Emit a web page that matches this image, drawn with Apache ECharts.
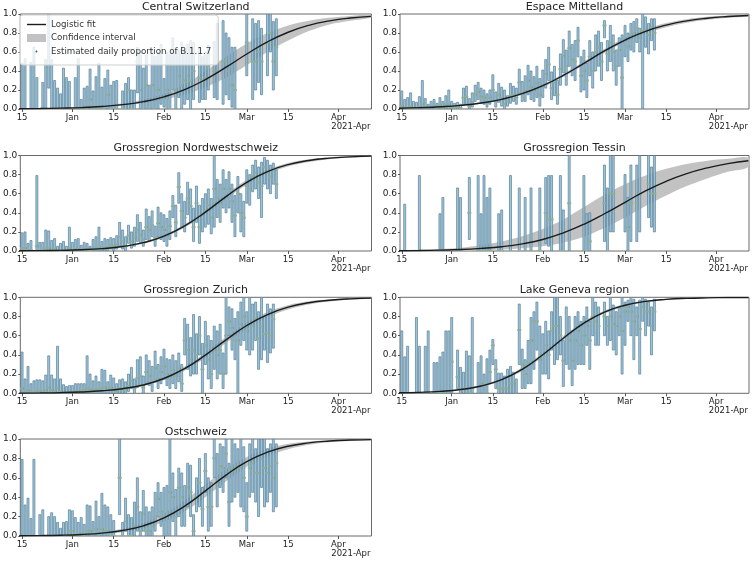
<!DOCTYPE html>
<html><head><meta charset="utf-8">
<script src="https://cdn.jsdelivr.net/npm/echarts@6/dist/echarts.min.js"></script>
<style>html,body{margin:0;padding:0;background:#fff}#c{width:752px;height:561px}</style>
</head><body><div id="c"></div>
<script>
// x values are days since 2020-12-14
const tickDays = [1, 18, 32, 49, 63, 77, 91, 108];
const tickLabels = ['15', 'Jan', '15', 'Feb', '15', 'Mar', '15', 'Apr'];
const offsetLabel = '2021-Apr';
const sampleDays = [0,7,14,21,28,35,42,49,56,63,70,77,84,91,98,105,112,119];
const regionNames = ['Central Switzerland','Espace Mittelland','Grossregion Nordwestschweiz','Grossregion Tessin','Grossregion Zurich','Lake Geneva region','Ostschweiz'];

// ---- Central Switzerland ----
const csHi = [null,.48,.53,null,.49,.65,.33,null,.28,.52, 1,.52,.30,.22,.16,.43,.33,.29,null,.33, .53,.10,.22,.24,.42,.19,.34,.48,.23,.32, .41,.25,.29,.30,null,.19,.27,.33,.20,.20, .65,.60,.43,.57,.25,.63,.55,.59,.68,.32, .60,.58,.75,.60,.62,.70,.62,.68,.72,.70, null,.65,.55,.60,.67,null,.71,.90,null,.93, .80,.75,.65,.65,null,null,null,1,null,.95, .90,.93,.85,null,1,1,.92,.95];
const csLo = [null,0,0,null,0,0,0,null,0,0, .22,0,0,0,0,0,0,0,null,0, 0,0,0,0,0,0,0,0,0,0, 0,0,0,0,null,0,0,0,0,0, .17,0,0,0,0,0,0,0,.05,.02, 0,0,.20,0,.12,0,.05,.10,0,.10, null,.07,.10,.10,.20,null,.12,.10,null,.05, .15,.10,.02,0,null,null,null,.35,null,.10, .20,.28,.15,null,.35,.60,.20,.35];
const csP = [null,0,0,null,0,0,0,null,0,0, .55,0,0,0,0,0,0,0,null,0, 0,0,0,0,.1,0,0,0,0,0, .15,0,0,0,null,0,0,.2,0,0, .5,.2,0,.25,0,.25,0,.2,.5,.12, .2,0,.5,.2,.35,.25,.3,.35,.3,.4, null,.33,.3,.33,.45,null,.4,.5,null,.5, .5,.4,.25,.2,null,null,null,.7,null,.5, .5,.6,.5,null,.7,.8,.5,.65];
const csFit = [.003,.005,.009,.015,.027,.046,.077,.128,.204,.31,.44,.579,.707,.808,.881,.928,.958,.975];
const csCiLo = [.002,.003,.006,.01,.02,.035,.06,.10,.15,.23,.33,.46,.60,.72,.82,.89,.93,.96];
const csCiHi = [.004,.007,.012,.02,.035,.06,.10,.16,.26,.40,.55,.69,.80,.88,.93,.96,.98,.99];

// ---- Espace Mittelland ----
const emHi = [.14,.19,.10,.12,.17,.08,.07,.13,.30,.11, .05,.08,.10,.06,.12,.08,.14,.20,.08,.06, .07,.05,.22,.24,.11,.17,.25,.28,.22,.20, .16,.20,.36,.18,.27,.23,.20,.14,.27,.24, .22,.42,.29,.35,.46,.40,.34,.45,.32,.41, .52,.65,.39,.45,.30,.58,.73,.62,.82,.68, .72,.86,.55,.62,.48,.72,.60,.78,.82,.70, .93,.72,.88,.78,.62,.75,.78,.88,.80,.90, .92,.95,.85,1,.97,.90,.95,.95];
const emLo = [0,0,0,0,0,0,0,0,0,0, 0,0,0,0,0,0,0,0,0,0, 0,0,.04,.05,0,.02,.08,.10,.06,.05, .02,.05,.08,.02,.07,.03,0,.03,.06,.08, .05,.16,.08,.08,.15,.10,.08,.12,.03,.12, .22,.30,.10,.14,.05,.25,.38,.25,.45,.35, .30,.55,.18,.20,.12,.35,.22,.40,.45,.30, .75,.40,.50,.40,.25,.45,0,.55,.50,.62, .60,.70,.60,0,.65,.58,.72,.62];
const emP = [.02,.03,0,.01,.03,0,0,.02,.05,.01, 0,.02,.03,0,.04,.01,.04,.05,.02,.01, .02,.01,.12,.13,.03,.07,.15,.18,.13,.12, .07,.12,.20,.08,.15,.12,.05,.08,.14,.15, .12,.28,.17,.19,.30,.23,.20,.27,.15,.25, .37,.47,.22,.28,.15,.42,.56,.45,.64,.52, .50,.72,.35,.40,.30,.55,.40,.60,.65,.50, .88,.58,.70,.60,.45,.62,.33,.73,.66,.78, .80,.85,.75,.82,.83,.78,.86,.80];
const emFit = [.008,.014,.023,.038,.063,.102,.161,.245,.354,.481,.611,.726,.818,.883,.928,.956,.973,.984];
const emCiLo = [.006,.011,.019,.032,.055,.092,.149,.230,.337,.462,.590,.704,.795,.860,.908,.940,.961,.975];
const emCiHi = [.010,.017,.027,.044,.071,.112,.173,.260,.371,.500,.632,.748,.840,.905,.946,.970,.983,.991];

// ---- Grossregion Nordwestschweiz ----
const nwHi = [.15,.19,.20,.08,.11,null,.79,.09,.09,.22, .21,.11,.13,.05,.08,.10,.05,.25,.09,.12, .13,.06,.09,.08,.05,.12,.15,.25,.10,.13, .12,.14,.13,.16,.30,.22,.15,.27,.20,.25, .38,.30,.22,.44,.36,.42,.26,.46,.40,.38, .34,.42,.58,.48,.82,.60,.52,.72,.65,.45, .68,.48,.55,.60,.65,.55,1,.75,.70,.85, .75,.83,.70,.58,.78,.60,.52,.85,.80,.90, .95,.88,.93,.98,.95,.90,.92,.85];
const nwLo = [0,0,0,0,0,null,0,0,0,0, 0,0,0,0,0,0,0,0,0,0, 0,0,0,0,0,0,0,0,0,0, 0,.02,0,.02,.05,.02,0,.08,.03,.05, .10,.08,.05,.12,.10,.15,.05,.15,.12,.10, .05,.12,.35,.15,.50,.25,.20,.38,.30,.10, .30,.08,.20,.25,.28,.18,.25,.35,.30,.45, .40,.45,.30,.15,.40,.20,.15,.50,.48,.62, .65,.55,.35,.70,.65,.60,.70,.55];
const nwP = [.02,.03,.03,0,.01,null,.05,0,0,.03, .03,.01,.02,0,0,.01,0,.03,.01,.02, .02,0,.01,.01,0,.02,.03,.04,.02,.03, .04,.06,.05,.07,.15,.10,.05,.16,.10,.14, .22,.17,.12,.25,.22,.27,.14,.29,.25,.22, .16,.26,.47,.30,.67,.42,.35,.55,.47,.25, .50,.25,.38,.42,.48,.35,.65,.55,.50,.65, .58,.65,.52,.37,.60,.40,.35,.68,.65,.78, .82,.72,.68,.88,.82,.78,.85,.70];
const nwFit = [.002,.0035,.007,.013,.025,.047,.087,.156,.263,.407,.570,.719,.832,.905,.948,.973,.986,.993];
const nwCiLo = [.001,.002,.005,.010,.020,.040,.077,.142,.245,.385,.545,.695,.810,.885,.932,.962,.978,.988];
const nwCiHi = [.003,.005,.009,.016,.030,.055,.097,.170,.281,.429,.595,.743,.852,.922,.961,.982,.992,.996];

// ---- Grossregion Tessin ----
const tiHi = [null,null,.49,null,null,null,null,.79,null,null, null,null,null,null,.39,.56,null,null,null,null, .66,.56,null,null,.77,null,null,.79,.39,.79, .56,.66,null,null,.39,.43,null,null,.79,null, null,.66,null,.56,null,.66,null,null,.66,null, .77,.79,.79,null,null,.79,.43,null,1,null, null,null,null,.79,.39,.40,null,null,null,null, .90,.66,1,1,null,null,null,.80,.56,.90, null,.90,1,null,null,1,.88,1];
const tiLo = [0,0,0,0,0,0,0,0,0,0, 0,0,0,0,0,0,0,0,0,0, 0,0,0,0,.12,0,0,0,0,0, 0,0,0,0,0,0,0,0,0,0, 0,0,0,0,0,0,0,0,0,0, .08,.05,0,0,0,0,0,0,0,0, 0,0,0,0,0,0,0,0,0,0, .10,0,.20,.20,0,0,0,.20,0,.10, 0,.10,.20,0,0,.35,.25,.20];
const tiP = [0,0,0,0,0,0,0,0,0,0, 0,0,0,0,0,0,0,0,0,0, 0,0,0,0,.40,0,0,0,0,0, 0,0,0,0,0,0,0,0,0,0, 0,0,0,0,0,0,0,0,0,0, .40,.33,.33,0,0,0,0,0,.5,0, 0,0,0,0,0,.10,0,0,0,0, .50,0,.60,.60,0,0,0,.50,.25,.50, 0,.50,.60,0,0,.70,.60,.60];
const tiFit = [.003,.005,.009,.015,.027,.045,.075,.12,.19,.28,.39,.51,.63,.73,.81,.87,.915,.945];
const tiCiLo = [.0005,.001,.002,.004,.008,.015,.03,.05,.09,.15,.24,.35,.47,.58,.68,.76,.83,.88];
const tiCiHi = [.008,.013,.022,.035,.06,.10,.155,.23,.33,.46,.59,.70,.79,.86,.91,.945,.965,.978];

// ---- Grossregion Zurich ----
const zhHi = [null,.43,.15,.28,.10,.13,.14,.14,.13,.19, .39,.19,.15,.49,.15,.09,.07,.08,.08,.10, .10,.10,.10,.39,.20,.13,.18,.12,.25,.24, .12,.19,.16,.10,.14,.15,.12,.20,.27,.15, .35,.38,.18,.40,.34,.28,.44,.30,.38,.46, .36,.35,.40,.34,.42,.30,.78,.72,.58,.82, .62,.80,.52,.75,.60,.55,.70,.65,.72,.42, 1,.90,.88,.78,.85,.95,1,.85,1,.93, .95,.85,1,.80,.93,.88,.93,null];
const zhLo = [null,0,0,0,0,0,0,0,0,0, 0,0,0,0,0,0,0,0,0,0, 0,0,0,0,0,0,0,0,0,0, 0,0,0,0,0,0,0,.02,.05,0, .06,.08,0,.10,.08,.02,.12,.05,.10,.15, .08,.05,.10,.05,.12,.02,.40,.25,.18,.20, .20,.40,0,.30,.15,.05,.25,.15,.20,.05, .20,.60,.45,.35,0,.50,.55,.45,.40,.45, .55,.25,.35,.45,.32,.42,.47,null];
const zhP = [null,.05,.01,.03,0,.01,.02,.02,.01,.03, .06,.03,.02,.06,.02,0,0,.01,.01,.02, .02,.02,.03,.05,.04,.03,.04,.03,.06,.06, .03,.06,.04,.02,.05,.04,.03,.08,.13,.05, .16,.18,.06,.22,.18,.12,.26,.15,.22,.28, .20,.18,.24,.18,.26,.10,.55,.45,.35,.45, .40,.60,.25,.50,.35,.20,.45,.40,.45,.20, .60,.75,.68,.55,.55,.72,.80,.65,.72,.70, .78,.57,.70,.62,.63,.60,.77,null];
const zhFit = [.002,.004,.007,.014,.026,.048,.087,.154,.258,.398,.557,.706,.820,.897,.943,.969,.984,.991];
const zhCiLo = [.001,.003,.005,.010,.020,.040,.076,.138,.236,.370,.525,.672,.790,.872,.925,.956,.975,.985];
const zhCiHi = [.003,.005,.010,.018,.032,.057,.099,.170,.280,.426,.589,.738,.848,.918,.958,.979,.990,.995];

// ---- Lake Geneva region ----
const lgHi = [.43,.65,.38,.49,null,null,.79,.49,null,.49, .65,null,.32,.32,.38,.43,.65,.65,.79,null, .45,.27,.22,.44,.39,.79,null,.32,.39,.20, .36,.45,.56,.35,.21,.21,.18,.25,.28,.22, .15,.93,.46,.35,.55,.79,.85,.95,.70,.62, .75,.65,.85,1,1,.80,.55,.90,.80,.65, .80,.85,.75,.80,.90,.75,1,.95,.90,null, .95,.80,1,.92,.85,.90,1,.95,.97,1, .98,.90,.97,1,.98,.95,.90,.98];
const lgLo = [0,0,0,0,null,null,0,0,null,0, 0,null,0,0,0,0,0,0,0,null, .05,0,0,0,0,0,null,0,0,0, 0,.10,.30,.05,0,0,0,0,0,0, 0,.30,.05,.05,.10,.10,.25,.45,0,.20, .20,.15,.45,.30,.35,.40,.07,.30,.25,.08, .25,.30,.30,.30,.50,.25,.60,.50,.50,null, .60,.50,.55,.45,.40,.60,.20,.50,.75,.60, .35,.60,.20,.75,.60,.70,.40,.65];
const lgP = [0,0,0,0,null,null,0,0,null,0, 0,null,0,0,0,0,0,0,.33,null, .17,0,.05,.05,0,0,null,0,.1,0, 0,.22,.5,.25,.05,.05,.05,.05,.1,.1, 0,.66,.3,.2,.3,.55,.75,.75,.35,.4, .5,.4,.65,.7,.7,.6,.34,.6,.55,.34, .55,.65,.5,.6,.7,.55,.8,.75,.7,null, .8,.7,.8,.72,.7,.8,.65,.85,.9,.85, .75,.8,.67,.9,.85,.85,.7,.85];
const lgFit = [.005,.010,.020,.039,.076,.142,.250,.401,.574,.731,.846,.917,.957,.978,.989,.9945,.9973,.9986];
const lgCiLo = [.003,.007,.015,.032,.066,.128,.232,.380,.553,.712,.830,.905,.948,.972,.985,.992,.996,.998];
const lgCiHi = [.007,.013,.025,.046,.086,.156,.268,.422,.595,.750,.862,.929,.966,.984,.993,.997,.998,.999];

// ---- Ostschweiz ----
const osHi = [null,.79,.32,.39,.18,.79,null,.22,.27,null, .20,.24,.20,.14,.08,.14,.15,.27,.26,.19, .14,.19,.12,.32,.31,.15,.36,.20,.44,.32, .30,.22,.16,null,1,.14,.39,.22,.19,.35, .60,.25,.47,.30,.25,.30,.45,.55,.45,.50, .52,1,.65,.48,.70,.65,.52,.75,.73,.22, .60,.80,.50,.85,.60,.55,1,.85,.95,.92, 1,.75,1,.95,.90,1,.92,.55,.95,1, .90,1,1,1,.90,.95,1,.95];
const osLo = [null,0,0,0,0,0,null,0,0,null, 0,0,0,0,0,0,0,0,0,0, 0,0,0,0,0,0,0,0,0,0, 0,0,0,null,.22,0,.05,0,0,0, .05,0,.05,0,0,0,.05,.20,.10,0, 0,0,.15,0,.20,.10,.10,.30,.20,0, .25,.30,.10,.45,.05,.10,.60,.30,.50,.45, .60,.10,.35,.40,.45,.30,.25,.05,.40,.45, .35,.20,.50,.30,.35,.45,.25,.30];
const osP = [null,0,0,0,0,0,null,0,0,null, 0,0,0,0,0,0,0,.05,.05,0, 0,0,0,.05,.05,0,.07,0,.07,.05, .05,0,0,null,.6,0,.15,0,0,.1, .3,.05,.23,.05,.05,.1,.2,.38,.25,.2, .2,.45,.4,.2,.5,.4,.3,.5,.45,.05, .4,.55,.28,.67,.3,.3,.8,.55,.72,.7, .85,.35,.7,.68,.7,.7,.6,.2,.7,.75, .65,.65,.8,.7,.65,.72,.6,.75];
const osFit = [.002,.004,.008,.016,.030,.057,.105,.187,.308,.465,.628,.767,.864,.925,.960,.979,.989,.994];
const osCiLo = [.001,.002,.005,.010,.020,.040,.078,.146,.253,.400,.565,.714,.823,.895,.940,.966,.980,.988];
const osCiHi = [.004,.007,.012,.022,.040,.075,.135,.232,.365,.530,.690,.815,.900,.950,.975,.988,.994,.997];

const regionData = [
  [csHi, csLo, csP, csFit, csCiLo, csCiHi],
  [emHi, emLo, emP, emFit, emCiLo, emCiHi],
  [nwHi, nwLo, nwP, nwFit, nwCiLo, nwCiHi],
  [tiHi, tiLo, tiP, tiFit, tiCiLo, tiCiHi],
  [zhHi, zhLo, zhP, zhFit, zhCiLo, zhCiHi],
  [lgHi, lgLo, lgP, lgFit, lgCiLo, lgCiHi],
  [osHi, osLo, osP, osFit, osCiLo, osCiHi]
];

// ---- layout ----
const colX = [[20, 351.5], [400, 349]];
const rowY = [[14, 95], [155.5, 95.5], [297.3, 96], [439, 97]];
const FONT = 'DejaVu Sans';

const grids = [], xAxes = [], yAxes = [], titles = [], series = [];

function renderBar(params, api) {
  const x = api.value(0), lo = api.value(1), hi = api.value(2), p = api.value(3);
  const top = api.coord([x, hi]);
  const bot = api.coord([x, lo]);
  const pt = api.coord([x, p]);
  return {
    type: 'group',
    children: [
      { type: 'rect', shape: { x: top[0] - 1, y: top[1], width: 2, height: Math.max(bot[1] - top[1], 0.5) },
        style: { fill: '#a2c6da', stroke: '#557f98', lineWidth: 0.7 } },
      { type: 'rect', shape: { x: pt[0] - 2, y: pt[1] - 0.9, width: 4, height: 1.8 }, style: { fill: '#8fae92' } }
    ]
  };
}

function makeBandRenderer(ciLo, ciHi) {
  return function (params, api) {
    if (params.dataIndex !== 0) return null;
    const upper = sampleDays.map((d, j) => api.coord([d, ciHi[j]]));
    const lower = sampleDays.map((d, j) => api.coord([d, ciLo[j]])).reverse();
    return {
      type: 'polygon',
      shape: { points: upper.concat(lower), smooth: 0.35 },
      style: { fill: '#c2c2c2' }
    };
  };
}

regionNames.forEach((name, i) => {
  const col = i % 2, row = Math.floor(i / 2);
  const [gl, gw] = colX[col];
  const [gt, gh] = rowY[row];
  grids.push({ left: gl, top: gt, width: gw, height: gh, show: true, borderColor: '#6a6a6a', borderWidth: 1, backgroundColor: 'transparent' });
  titles.push({ text: name, left: gl + gw / 2, top: gt - 12.5, textAlign: 'center', padding: 0,
    textStyle: { fontSize: 11, fontWeight: 'normal', color: '#222', fontFamily: FONT } });
  xAxes.push({
    type: 'value', gridIndex: i, min: 0.4, max: 119.2,
    axisLine: { show: false }, splitLine: { show: false },
    axisTick: { show: true, length: 3, lineStyle: { color: '#555' }, customValues: tickDays },
    axisLabel: { customValues: tickDays, fontSize: 8.5, color: '#222', margin: 4, fontFamily: FONT,
      formatter: v => { const k = tickDays.indexOf(Math.round(v)); return k >= 0 ? tickLabels[k] : ''; } },
    name: offsetLabel, nameLocation: 'end', nameGap: -1,
    nameTextStyle: { align: 'right', verticalAlign: 'top', padding: [13, 0, 0, 0], fontSize: 8.5, color: '#222', fontFamily: FONT }
  });
  yAxes.push({
    type: 'value', gridIndex: i, min: 0, max: 1, interval: 0.2,
    axisLine: { show: false }, splitLine: { show: false },
    axisTick: { show: true, length: 2, lineStyle: { color: '#555' } },
    axisLabel: { formatter: v => v.toFixed(1), fontSize: 9, color: '#222', margin: 3, fontFamily: FONT }
  });

  const [hi, lo, p, fit, ciLo, ciHi] = regionData[i];
  series.push({
    type: 'custom', name: 'Confidence interval', xAxisIndex: i, yAxisIndex: i,
    data: sampleDays.map((d, j) => [d, ciLo[j], ciHi[j]]), encode: { x: 0, y: [1, 2] },
    renderItem: makeBandRenderer(ciLo, ciHi), clip: true, silent: true, z: 1,
    itemStyle: { color: '#c2c2c2' }
  });
  const bars = [];
  for (let d = 0; d < hi.length; d++) {
    if (hi[d] != null) bars.push([d, lo[d], hi[d], p[d]]);
  }
  series.push({
    type: 'custom', name: 'Estimated daily proportion of B.1.1.7', xAxisIndex: i, yAxisIndex: i,
    data: bars, renderItem: renderBar, encode: { x: 0, y: [1, 2] }, clip: true, silent: true, z: 2,
    itemStyle: { color: '#3f6e52' }
  });
  series.push({
    type: 'line', name: 'Logistic fit', xAxisIndex: i, yAxisIndex: i,
    data: sampleDays.map((d, j) => [d, fit[j]]), smooth: true, symbol: 'none', showSymbol: false,
    lineStyle: { color: '#1b1b1b', width: 1.4 }, itemStyle: { color: '#1b1b1b' }, silent: true, z: 3
  });
});

const chart = echarts.init(document.getElementById('c'), null, { renderer: 'canvas' });
chart.setOption({
  animation: false,
  backgroundColor: '#fff',
  textStyle: { fontFamily: FONT },
  title: titles,
  grid: grids,
  xAxis: xAxes,
  yAxis: yAxes,
  legend: {
    data: [
      { name: 'Logistic fit', icon: 'path://M0,0L0,0M19,8L19,8M0,3.3L19,3.3L19,4.7L0,4.7Z', itemStyle: { color: '#1b1b1b' } },
      { name: 'Confidence interval', icon: 'rect', itemStyle: { color: '#c2c2c2' } },
      { name: 'Estimated daily proportion of B.1.1.7', icon: 'path://M0,0L0,0M19,8L19,8M8.3,4L9.5,2.8L10.7,4L9.5,5.2Z', itemStyle: { color: '#3f6e52' } }
    ],
    orient: 'vertical', left: 20, top: 15, itemWidth: 19, itemHeight: 8, itemGap: 2.5,
    padding: [4, 7, 8, 7], selectedMode: false,
    backgroundColor: 'rgba(255,255,255,0.8)', borderColor: '#cfcfcf', borderWidth: 1, borderRadius: 3,
    textStyle: { fontSize: 8.7, color: '#333', fontFamily: FONT, lineHeight: 11 }
  },
  series: series
});
</script></body></html>
